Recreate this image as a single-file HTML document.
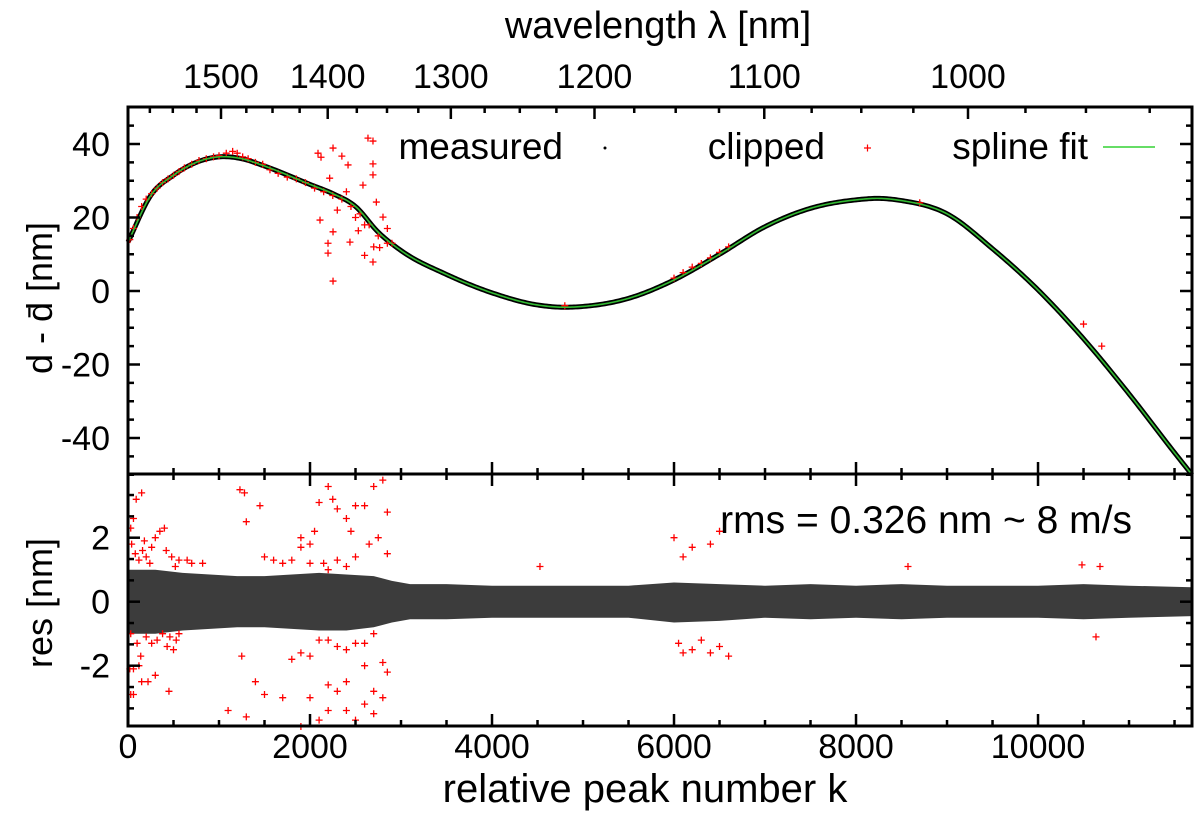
<!DOCTYPE html>
<html><head><meta charset="utf-8"><style>
body{margin:0;background:#fff}
svg text{font-family:"Liberation Sans",sans-serif;fill:#000}
</style></head><body>
<svg id="chart" width="1200" height="830" xmlns="http://www.w3.org/2000/svg">
<g id="g-band"></g>
<g id="g-top"></g>
<g id="g-bot"></g>
<g id="g-axes"></g>
<text x="658" y="38" font-size="38" text-anchor="middle">wavelength λ [nm]</text>
<text x="645" y="802" font-size="40" text-anchor="middle">relative peak number k</text>
<text transform="translate(52,298) rotate(-90)" font-size="36" text-anchor="middle">d - d̄ [nm]</text>
<text transform="translate(52,603) rotate(-90)" font-size="36" text-anchor="middle">res [nm]</text>
<text x="1132" y="533" font-size="39" text-anchor="end">rms = 0.326 nm ~ 8 m/s</text>
<g>
<text x="563" y="159" font-size="37" text-anchor="end">measured</text>
<circle cx="605" cy="148" r="1.5" fill="#000"/>
<text x="825" y="159" font-size="37" text-anchor="end">clipped</text>
<path d="M864,148h7M867.5,144.5v7" stroke="#f00" stroke-width="1.2"/>
<text x="1088" y="159" font-size="37" text-anchor="end">spline fit</text>
<line x1="1103" y1="147" x2="1155" y2="147" stroke="#66dd66" stroke-width="2"/>
</g>
</svg>
<script>
// spline fit knots
const fitK=[0,250,500,750,1000,1250,1500,2000,2250,2500,2750,3000,3500,4000,4500,4750,5000,5500,6000,6500,7000,7500,8000,8250,8500,9000,9500,10000,10500,11000,11500,11692];
const fitD=[13.3,26,31.5,35,36.5,36,34,29,26.5,23,16,11,4.5,-0.5,-3.8,-4.4,-4.2,-2,3,10,17.5,22.5,24.8,25.2,24.6,21,11.5,0.3,-13,-28,-44,-50];
// clipped points in top panel (k, d)
const topClipK=[20,60,100,150,200,260,320,380,440,500,560,620,700,780,860,940,1000,1080,1150,1200,1260,1320,1400,1480,1560,1650,1750,1850,1950,2050,2150,2250,2350,2450,2550,2650,2750,2850,2637,2692,2253,2088,2121,2350,2418,2692,2692,2582,2216,2110,2253,2198,2198,2253,2692,2600,2765,2439,2531,2729,2802,2300,2400,2500,2600,2700,2850,2900,4800,6000,6100,6200,6300,6400,6500,6600,8700,10500,10700];
const topClipD=[14,17,20,23,25,26.5,28,29.5,30.5,31.5,32.5,33.5,34.5,35.5,36,36.5,36.8,37.5,38,37.5,36.5,36,35,34.5,33,32,31,30.5,29.5,28,27,26,25,23,21,18,15,13,41.6,40.8,38.9,37.5,36.4,36.7,34.3,34.6,31.6,28.8,30.7,19.3,16.1,13,10.3,2.7,7.9,9.7,11.8,13.3,16.4,24.2,20.1,22,27,20,18,12,17,13,-4,3.5,5,6.5,7.5,9,10.5,12,24,-9,-15];
// clipped residuals (k, r)
const resClipK=[30,60,90,150,40,80,120,160,200,240,180,260,300,350,400,420,480,520,560,650,700,820,30,100,200,260,320,380,430,460,500,530,560,20,60,120,150,220,30,60,450,300,140,1230,1280,1300,1450,1500,1600,1700,1800,1900,2000,2050,2100,2200,2250,2300,2400,2450,2500,2600,2700,2800,2850,2000,2150,2300,2400,2500,2650,2750,2850,1900,2200,1250,1400,1500,1100,1300,1800,1900,2000,2100,2200,2300,2400,2500,2600,2700,2800,2200,2300,2400,2600,2700,2800,2100,2200,2400,2500,2600,2700,2850,1700,1900,2000,6000,6200,6400,6500,6100,6050,6100,6200,6300,6400,6500,6600,4527,8571,10483,10681,10637];
const resClipR=[2.3,2.6,3.2,3.4,1.8,1.5,1.3,1.6,1.4,1.2,1.9,1.7,2.0,2.2,2.3,1.6,1.4,1.1,1.3,1.3,1.2,1.2,-1.0,-1.3,-1.1,-1.3,-1.2,-1.0,-1.4,-1.1,-1.5,-1.2,-1.0,-2.1,-2.1,-2.0,-2.5,-2.5,-2.9,-2.9,-2.8,-2.3,-1.7,3.5,3.4,2.5,3.0,1.4,1.3,1.2,1.3,2.0,1.8,2.2,3.1,3.6,3.2,2.9,2.6,2.2,3.0,3.0,3.6,3.8,2.8,1.2,1.2,1.3,1.1,1.4,1.8,2.0,1.5,1.7,1.0,-1.7,-2.5,-2.9,-3.4,-3.6,-1.8,-1.6,-1.7,-1.2,-1.2,-1.4,-1.5,-1.3,-1.3,-1.0,-1.9,-2.6,-2.8,-2.5,-2.0,-2.8,-3.0,-3.7,-3.4,-3.4,-3.7,-3.2,-3.5,-2.2,-3.0,-3.9,-3.0,2.0,1.7,1.8,2.2,1.4,-1.3,-1.6,-1.5,-1.2,-1.6,-1.4,-1.7,1.1,1.1,1.15,1.1,-1.1];
// measured residual envelope
const bandK=[0,300,600,900,1200,1500,1800,2100,2400,2700,2900,3100,3500,4000,4500,5000,5500,6000,6500,7000,7500,8000,8500,9000,9500,10000,10500,11000,11692];
const bandHi=[1.0,1.0,0.9,0.85,0.8,0.8,0.85,0.9,0.85,0.8,0.65,0.55,0.55,0.5,0.5,0.5,0.5,0.6,0.55,0.5,0.55,0.5,0.55,0.5,0.5,0.5,0.55,0.5,0.45];
const bandLo=[-1.0,-1.0,-0.9,-0.85,-0.8,-0.8,-0.85,-0.9,-0.9,-0.8,-0.65,-0.55,-0.55,-0.5,-0.5,-0.5,-0.5,-0.65,-0.6,-0.5,-0.55,-0.5,-0.55,-0.5,-0.5,-0.5,-0.55,-0.5,-0.45];
const xTicks=[0,2000,4000,6000,8000,10000];
const topYTicks=[40,20,0,-20,-40];
const botYTicks=[2,0,-2];
const lamTicks=[1500,1400,1300,1200,1100,1000];

const NS="http://www.w3.org/2000/svg";
const L=128,R=1192,T=107,M=474,B=726;
const xS=k=>L+k*(R-L)/11692;
const yT=d=>291-d*3.675;
const yB=r=>601.7-r*32;
const xL=l=>221+2241000*(1/l-1/1500);
function mk(tag,attrs,parent){const e=document.createElementNS(NS,tag);for(const a in attrs)e.setAttribute(a,attrs[a]);parent.appendChild(e);return e;}
function interp(K,D,k){
 let i=0;while(i<K.length-2&&k>K[i+1])i++;
 const h=K[i+1]-K[i],t=(k-K[i])/h;
 const sl=j=>{if(j===0)return (D[1]-D[0])/(K[1]-K[0]);if(j===K.length-1)return (D[j]-D[j-1])/(K[j]-K[j-1]);
  return ((D[j+1]-D[j])/(K[j+1]-K[j])*(K[j]-K[j-1])+(D[j]-D[j-1])/(K[j]-K[j-1])*(K[j+1]-K[j]))/(K[j+1]-K[j-1]);};
 const m0=sl(i)*h,m1=sl(i+1)*h,t2=t*t,t3=t2*t;
 return (2*t3-3*t2+1)*D[i]+(t3-2*t2+t)*m0+(-2*t3+3*t2)*D[i+1]+(t3-t2)*m1;}

const gBand=document.getElementById('g-band'),gTop=document.getElementById('g-top'),gBot=document.getElementById('g-bot'),gAx=document.getElementById('g-axes');
const hi=bandK.map((k,i)=>[xS(k),yB(bandHi[i])]);
const lo=bandK.map((k,i)=>[xS(k),yB(bandLo[i])]).reverse();
let bd="M"+hi.map(p=>p.join(",")).join(" L")+" L"+lo.map(p=>p.join(",")).join(" L")+"Z";
const band=mk('path',{d:bd,fill:'#111','fill-opacity':'0.82'},gBand);


let cd="";
const kMax=fitK[fitK.length-1];
for(let k=0;k<=kMax;k+=20){cd+=(k?" L":"M")+xS(k).toFixed(2)+","+yT(interp(fitK,fitD,k)).toFixed(2);}
cd+=" L"+xS(kMax)+","+yT(fitD[fitD.length-1]);
const meas=mk('path',{d:cd,fill:'none',stroke:'#000','stroke-width':'5'},gTop);


topClipK.forEach((k,i)=>{const x=xS(k),y=yT(topClipD[i]);
const p=mk('path',{d:`M${x-3.5},${y}h7M${x},${y-3.5}v7`,stroke:'#f00','stroke-width':'1.3'},gTop);

});
const fit=mk('path',{d:cd,fill:'none',stroke:'#33bb33','stroke-width':'1.6'},gTop);


resClipK.forEach((k,i)=>{const x=xS(k),y=yB(resClipR[i]);
const p=mk('path',{d:`M${x-3.5},${y}h7M${x},${y-3.5}v7`,stroke:'#f00','stroke-width':'1.3'},gBot);

});
[[T,M],[M,B]].forEach(([a,b],i)=>{const r=mk('rect',{x:L,y:a,width:R-L,height:b-a,fill:'none',stroke:'#000','stroke-width':'3'},gAx);

});
function tick(x1,y1,x2,y2){const t=mk('line',{x1,y1,x2,y2,stroke:'#000','stroke-width':'2.5'},gAx);

}
for(let k=0;k<=11692;k+=500){const x=xS(k),len=(k%2000===0)?12:6;
tick(x,M,x,M-len);tick(x,M,x,M+len);tick(x,B,x,B-len);}
xTicks.forEach(k=>{const t=mk('text',{x:xS(k),y:758,'font-size':'34','text-anchor':'middle'},gAx);t.textContent=k;

});
for(let l=1600;l>=900;l-=25){const x=xL(l);if(x<L+1||x>R-1)continue;const len=(l%100===0)?12:6;tick(x,T,x,T+len);}
lamTicks.forEach(l=>{const t=mk('text',{x:xL(l),y:88,'font-size':'34','text-anchor':'middle'},gAx);t.textContent=l;

});
for(let d=-50;d<=50;d+=5){const y=yT(d),len=(d%20===0)?12:6;tick(L,y,L+len,y);tick(R,y,R-len,y);}
topYTicks.forEach(d=>{const t=mk('text',{x:110,y:yT(d)+12,'font-size':'34','text-anchor':'end'},gAx);t.textContent=d;

});
for(let i=-5;i<=6;i++){const r=i*2/3;const y=yB(r);if(y<M+2||y>B-2)continue;const len=(i%3===0)?12:6;tick(L,y,L+len,y);tick(R,y,R-len,y);}
botYTicks.forEach(r=>{const t=mk('text',{x:110,y:yB(r)+12,'font-size':'34','text-anchor':'end'},gAx);t.textContent=r;

});
</script>
</body></html>
